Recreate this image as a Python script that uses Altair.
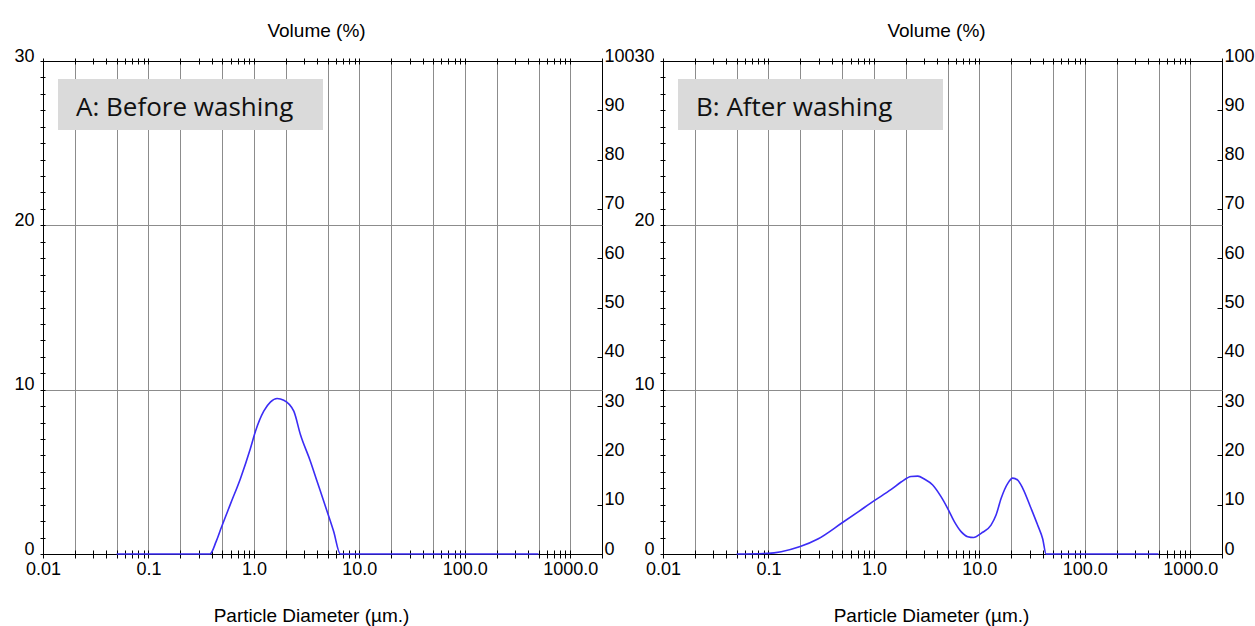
import altair as alt
import pandas as pd

# Volume frequency (%) against particle diameter (µm) for the two samples
size_a = [0.05, 0.383, 0.438, 0.483, 0.60, 0.746, 0.925, 1.035, 1.24, 1.44, 1.66,
          1.92, 2.39, 2.76, 3.43, 3.97, 4.94, 5.70, 6.6, 500]
vol_a = [0, 0, 0.75, 1.49, 3.05, 4.6, 6.4, 7.47, 8.69, 9.26, 9.46,
         9.36, 8.69, 7.27, 5.65, 4.43, 2.60, 1.38, 0, 0]

size_b = [0.05, 0.1, 0.132, 0.2, 0.294, 0.5, 0.703, 1.0, 1.46, 1.81, 2.25, 2.61,
          3.01, 3.61, 4.33, 5.0, 5.79, 6.71, 7.76, 8.85, 10.4, 12.9, 14.4, 16.1,
          18.6, 20.7, 23.1, 25.8, 30.9, 35.7, 39.9, 42.9, 500]
vol_b = [0, 0.04, 0.14, 0.45, 0.91, 1.90, 2.55, 3.23, 3.93, 4.38, 4.72, 4.74,
         4.56, 4.20, 3.49, 2.78, 1.97, 1.36, 1.05, 1.0, 1.26, 1.76, 2.37, 3.39,
         4.30, 4.62, 4.50, 4.00, 2.78, 1.76, 0.91, 0.0, 0]

panel_labels = ["A: Before washing", "B: After washing"]

# Axis values
x_domain = [0.01, 2000]
decade_values = [0.01, 0.1, 1, 10, 100, 1000]
decade_labels = ["0.01", "0.1", "1.0", "10.0", "100.0", "1000.0"]
minor_steps = [1, 2, 3, 4, 5, 6, 7, 8, 9]
grid_x = [0.02, 0.05, 0.1, 0.2, 0.5, 1, 2, 5, 10, 20, 50, 100, 200, 500, 1000]
freq_ticks = list(range(0, 31))
grid_y = [10, 20]
cum_ticks = [0, 10, 20, 30, 40, 50, 60, 70, 80, 90, 100]

tick_x = sorted({round(d * k, 6) for d in decade_values for k in minor_steps
                 if d * k <= x_domain[1]} | {x_domain[1]})
x_label_expr = "".join(
    f"datum.value == {v} ? '{t}' : " for v, t in zip(decade_values, decade_labels)
) + "''"

W, H = 559, 493
CURVE = "#3b2cf5"
FONT = "Liberation Sans, Arial, sans-serif"


def panel(sizes, vols, label):
    df = pd.DataFrame({"size": sizes, "vol": vols})
    xs = alt.Scale(type="log", domain=x_domain, nice=False)
    ys = alt.Scale(domain=[0, 30], nice=False)

    curve = alt.Chart(df).mark_line(
        color=CURVE, strokeWidth=1.6, interpolate="monotone"
    ).encode(
        x=alt.X("size:Q", scale=xs, axis=alt.Axis(
            orient="bottom", values=tick_x, labelExpr=x_label_expr,
            tickSize=8, offset=-4, domain=False, grid=False,
            labelOverlap=False, labelFlush=False, labelPadding=2,
            title="Particle Diameter (µm.)", titleX=268, titleY=71,
            titleAlign="center", titleBaseline="alphabetic")),
        y=alt.Y("vol:Q", scale=ys, axis=alt.Axis(
            orient="left", values=freq_ticks,
            labelExpr="datum.value % 10 == 0 ? datum.label : ''",
            tickSize=5, offset=-2, domain=False, grid=False,
            labelOverlap=False, labelPadding=6, labelBaseline="alphabetic",
            title=None)),
    )

    # top axis with minor ticks and the title, plus the horizontal grid
    top = alt.Chart(df).mark_line(opacity=0).encode(
        x=alt.X("size:Q", scale=xs, axis=alt.Axis(
            orient="top", values=tick_x, labels=False, tickSize=6, offset=-3,
            domain=False, grid=False, title="Volume (%)", titleX=273,
            titleY=-28, titleAlign="center", titleBaseline="alphabetic")),
        y=alt.Y("vol:Q", scale=ys, axis=alt.Axis(
            orient="left", values=grid_y, grid=True, ticks=False,
            labels=False, domain=False, title=None)),
    )

    # vertical grid at 1, 2, 5 of each decade
    vgrid = alt.Chart(df).mark_line(opacity=0).encode(
        x=alt.X("size:Q", scale=xs, axis=alt.Axis(
            orient="bottom", values=grid_x, grid=True, ticks=False,
            labels=False, domain=False, title=None)),
        y=alt.Y("vol:Q", scale=ys, axis=None),
    )

    # cumulative scale on the right
    cum = alt.Chart(pd.DataFrame({"cum": cum_ticks})).mark_point(opacity=0).encode(
        y=alt.Y("cum:Q", scale=alt.Scale(domain=[0, 100], nice=False),
                axis=alt.Axis(orient="right", values=cum_ticks, tickSize=5,
                              offset=-5, domain=False, grid=False,
                              labelAlign="left", labelBaseline="alphabetic",
                              labelPadding=2, labelOverlap=False, title=None)),
    )

    lab = pd.DataFrame({"label": [label]})
    box = alt.Chart(lab).mark_rect(color="#dadada").encode(
        x=alt.value(15), x2=alt.value(280), y=alt.value(18), y2=alt.value(69)
    )
    text = alt.Chart(lab).mark_text(
        align="left", baseline="alphabetic", font="Open Sans", fontSize=26,
        color="#111111"
    ).encode(x=alt.value(33), y=alt.value(54.5), text="label:N")

    return alt.layer(vgrid, top, box, text, curve, cum).resolve_scale(
        x="independent", y="independent"
    ).properties(width=W, height=H)


chart = alt.hconcat(
    panel(size_a, vol_a, panel_labels[0]),
    panel(size_b, vol_b, panel_labels[1]),
    spacing=61, bounds="flush",
).properties(
    padding={"left": 13, "top": 20, "right": 0, "bottom": 0}
).configure_view(
    stroke="black", strokeWidth=1
).configure_axis(
    labelFont=FONT, labelFontSize=18, labelColor="black",
    titleFont=FONT, titleFontSize=19, titleFontWeight="normal",
    titleColor="black", tickColor="black", gridColor="#8c8c8c",
    gridOpacity=1, tickWidth=1, gridWidth=1
)

chart.save("out.html", embed_options={"renderer": "svg", "actions": False})
